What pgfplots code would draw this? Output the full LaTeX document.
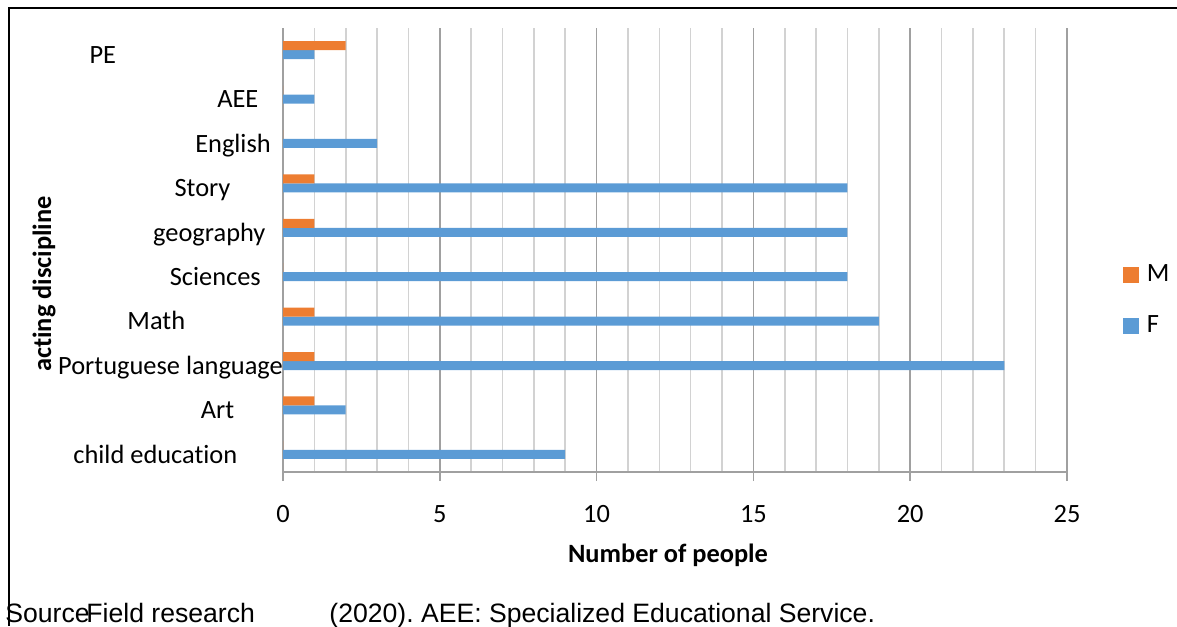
\documentclass[border=0pt]{standalone}
\usepackage{pgfplots}
\pgfplotsset{compat=1.18}
\usepackage{fontspec}
\setmainfont{Carlito}[Ligatures=NoCommon]
\newfontfamily\arialfont{Liberation Sans}
\definecolor{mcol}{HTML}{ED7D31}
\definecolor{fcol}{HTML}{5B9BD5}
\definecolor{majgrid}{HTML}{A0A0A0}
\definecolor{mingrid}{HTML}{D2D2D2}
\begin{document}
\frenchspacing
\fontsize{13.2pt}{16pt}\selectfont
\begin{tikzpicture}
\begin{axis}[
  at={(141.5pt,-236pt)}, anchor=south west,
  scale only axis, width=392pt, height=222pt,
  xmin=0, xmax=25, ymin=-0.5, ymax=9.5,
  xbar, bar width=4.5pt,
  xtick={0,5,...,25}, minor xtick={1,...,24},
  ytick=\empty,
  xmajorgrids, xminorgrids,
  major grid style={majgrid, line width=0.8pt},
  minor grid style={mingrid, line width=0.8pt},
  axis x line*=bottom, axis y line*=left,
  axis line style={majgrid, line width=0.8pt, -},
  tick align=outside, major tick length=4.5pt, minor tick length=0pt,
  major tick style={majgrid, line width=0.8pt},
  /pgf/number format/assume math mode=true,
  xticklabel style={anchor=base, yshift=-20.5pt},
  clip=false,
  legend style={draw=none, fill=none, inner sep=0pt, outer sep=0pt,
    at={(axis description cs:1.0714,0.387)}, anchor=west,
    row sep=15pt, column sep=4pt, nodes={inner sep=0pt}},
  legend cell align=left,
]
% female / male teachers per discipline (0 = child education ... 9 = PE)
\addplot[forget plot, fill=fcol, draw=none, bar shift=-2.25pt] coordinates {
  (9,0) (2,1) (23,2) (19,3) (18,4) (18,5) (18,6) (3,7) (1,8) (1,9)};
\addplot[forget plot, fill=mcol, draw=none, bar shift=2.25pt] coordinates {
  (0,0) (1,1) (1,2) (1,3) (0,4) (1,5) (1,6) (0,7) (0,8) (2,9)};
\addlegendimage{legend image code/.code={\fill[mcol] (0pt,-3.75pt) rectangle (7.5pt,3.75pt);}}
\addlegendentry{M}
\addlegendimage{legend image code/.code={\fill[fcol] (0pt,-3.75pt) rectangle (7.5pt,3.75pt);}}
\addlegendentry{F}
% discipline names
\node[anchor=base, yshift=-6.6pt] at (axis cs:-5.746,9) {PE};
\node[anchor=base, yshift=-6.6pt] at (axis cs:-1.441,8) {AEE};
\node[anchor=base, yshift=-6.6pt] at (axis cs:-1.594,7) {English};
\node[anchor=base, yshift=-6.6pt] at (axis cs:-2.567,6) {Story};
\node[anchor=base, yshift=-6.6pt] at (axis cs:-2.35,5) {geography};
\node[anchor=base, yshift=-6.6pt] at (axis cs:-2.16,4) {Sciences};
\node[anchor=base, yshift=-6.6pt] at (axis cs:-4.04,3) {Math};
\node[anchor=base, yshift=-6.6pt] at (axis cs:-3.587,2) {Portuguese language};
\node[anchor=base, yshift=-6.6pt] at (axis cs:-2.089,1) {Art};
\node[anchor=base, yshift=-6.6pt] at (axis cs:-4.07,0) {child education};
\end{axis}
\begin{scope}[x=0.5pt,y=-0.5pt]
  % outer frame (top and left sides)
  \draw[line width=1pt] (1177,8) -- (9,8) -- (9,626);
  \node[rotate=90, anchor=base, font=\bfseries] at (51,284) {acting discipline};
  \node[anchor=base, font=\bfseries] at (668,562) {Number of people};
  \node[anchor=base west, inner sep=0pt, font=\arialfont\fontsize{13.3pt}{16pt}\selectfont] at (5,622) {Source};
  \node[anchor=base west, inner sep=0pt, font=\arialfont\fontsize{13.3pt}{16pt}\selectfont] at (86,622) {Field research};
  \node[anchor=base west, inner sep=0pt, font=\arialfont\fontsize{13.3pt}{16pt}\selectfont] at (329,622) {(2020). AEE: Specialized Educational Service.};
  \pgfresetboundingbox
  \path[use as bounding box] (0,0) rectangle (1177,626);
\end{scope}
\end{tikzpicture}
\end{document}
